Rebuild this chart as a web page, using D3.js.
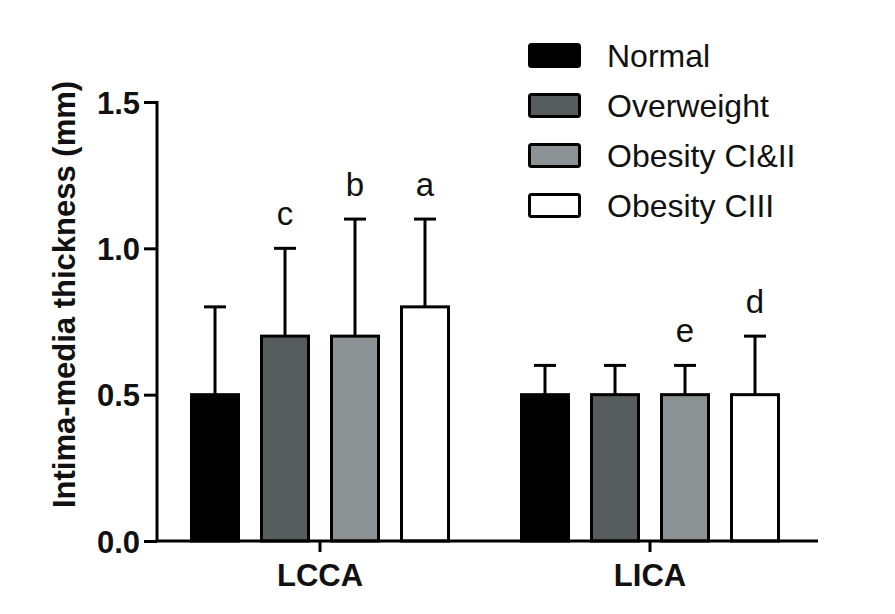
<!DOCTYPE html>
<html>
<head>
<meta charset="utf-8">
<script src="https://cdn.jsdelivr.net/npm/d3@7/dist/d3.min.js"></script>
<style>
  html, body { margin: 0; padding: 0; background: #ffffff; }
  svg { display: block; font-family: "Liberation Sans", Arial, Helvetica, sans-serif; }
</style>
</head>
<body>
<svg id="chart" width="895" height="614"></svg>
<script>
const categories = ["LCCA", "LICA"];
const series = ["Normal", "Overweight", "Obesity CI&II", "Obesity CIII"];
const seriesColors = ["#000000", "#575d5d", "#8d9294", "#ffffff"];
const meanLCCA = [0.5, 0.7, 0.7, 0.8];
const meanLICA = [0.5, 0.5, 0.5, 0.5];
const sdLCCA = [0.3, 0.3, 0.4, 0.3];
const sdLICA = [0.1, 0.1, 0.1, 0.2];
const lettersLCCA = ["", "c", "b", "a"];
const lettersLICA = ["", "", "e", "d"];
const yTicks = [0.0, 0.5, 1.0, 1.5];
const yTitle = "Intima-media thickness (mm)";

const means = [meanLCCA, meanLICA];
const sds = [sdLCCA, sdLICA];
const letters = [lettersLCCA, lettersLICA];

const svg = d3.select("#chart");
const W = 895, H = 614;
svg.append("rect").attr("width", W).attr("height", H).attr("fill", "#ffffff");

const plotLeft = 157, plotRight = 818, plotTop = 102, plotBottom = 541;

const x0 = d3.scaleBand().domain(categories).range([155, 815]).paddingInner(0).paddingOuter(0);
const x1 = d3.scaleBand().domain(series).range([-140, 140]).paddingInner(0.3).paddingOuter(0.15);
const y = d3.scaleLinear().domain([0, 1.5]).range([plotBottom, plotTop]);
const color = d3.scaleOrdinal().domain(series).range(seriesColors);

const data = [];
categories.forEach((c, ci) => {
  series.forEach((s, si) => {
    data.push({cat: c, ser: s, mean: means[ci][si], sd: sds[ci][si], letter: letters[ci][si]});
  });
});
const cx = d => x0(d.cat) + x0.bandwidth() / 2 + x1(d.ser) + x1.bandwidth() / 2;

// Error bars
const capW = 22;
const eb = svg.append("g").attr("stroke", "#000").attr("stroke-width", 3);
eb.selectAll("line.v").data(data).join("line")
  .attr("x1", cx).attr("x2", cx)
  .attr("y1", d => y(d.mean)).attr("y2", d => y(d.mean + d.sd));
eb.selectAll("line.c").data(data).join("line")
  .attr("x1", d => cx(d) - capW / 2).attr("x2", d => cx(d) + capW / 2)
  .attr("y1", d => y(d.mean + d.sd)).attr("y2", d => y(d.mean + d.sd));

// Bars
svg.append("g").selectAll("rect").data(data).join("rect")
  .attr("x", d => cx(d) - x1.bandwidth() / 2 + 1)
  .attr("width", x1.bandwidth() - 2)
  .attr("y", d => y(d.mean))
  .attr("height", d => y(0) - y(d.mean))
  .attr("fill", d => color(d.ser))
  .attr("stroke", "#000").attr("stroke-width", 3);

// Significance letters
svg.append("g").selectAll("text").data(data.filter(d => d.letter)).join("text")
  .attr("x", cx)
  .attr("y", d => y(d.mean + d.sd) - 23)
  .attr("text-anchor", "middle")
  .attr("font-size", 33)
  .attr("fill", "#111")
  .text(d => d.letter);

// Y axis
const yAxis = svg.append("g").attr("transform", `translate(${plotLeft},0)`)
  .call(d3.axisLeft(y).tickValues(yTicks).tickFormat(d3.format(".1f")).tickSize(13).tickSizeOuter(0).tickPadding(4));
yAxis.select(".domain").attr("stroke", "#000").attr("stroke-width", 3).attr("d", `M0,${plotTop - 1}V${plotBottom}`);
yAxis.selectAll(".tick line").attr("stroke", "#000").attr("stroke-width", 3);
yAxis.selectAll(".tick text").attr("font-size", 31).attr("font-weight", "bold").attr("fill", "#111")
  .attr("font-family", "Liberation Sans, Arial, sans-serif").attr("dy", "0.36em");

// X axis
const xAxis = svg.append("g").attr("transform", `translate(0,${plotBottom})`)
  .call(d3.axisBottom(x0).tickSize(11).tickSizeOuter(0).tickPadding(12));
xAxis.select(".domain").attr("stroke", "#000").attr("stroke-width", 3).attr("d", `M${plotLeft - 1.5},0H${plotRight}`);
xAxis.selectAll(".tick line").attr("stroke", "#000").attr("stroke-width", 3);
xAxis.selectAll(".tick text").attr("font-size", 31).attr("font-weight", "bold").attr("fill", "#111")
  .attr("font-family", "Liberation Sans, Arial, sans-serif");

// Y title
svg.append("text")
  .attr("transform", `translate(75,${(plotTop + plotBottom) / 2 - 27}) rotate(-90)`)
  .attr("text-anchor", "middle")
  .attr("font-size", 31).attr("font-weight", "bold").attr("fill", "#111")
  .text(yTitle);

// Legend
const legend = svg.append("g").attr("transform", "translate(528,43)");
const lg = legend.selectAll("g").data(series).join("g")
  .attr("transform", (d, i) => `translate(0,${i * 50})`);
lg.append("rect").attr("x", 1.5).attr("y", 1.5).attr("width", 50).attr("height", 22).attr("rx", 2)
  .attr("fill", d => color(d)).attr("stroke", "#000").attr("stroke-width", 3);
lg.append("text").attr("x", 79).attr("y", 24)
  .attr("font-size", 32).attr("fill", "#111").text(d => d);
</script>
</body>
</html>
